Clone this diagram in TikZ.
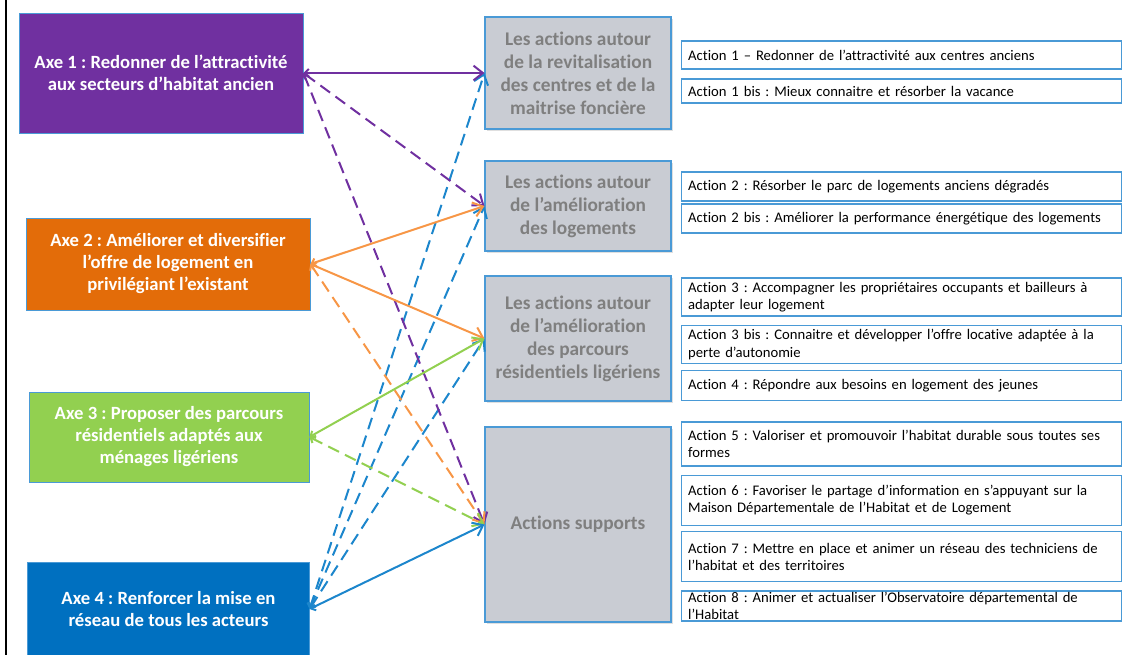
\documentclass[tikz,border=0pt]{standalone}
\usepackage{fontspec}
\setmainfont{Carlito}[Ligatures=NoCommon]
\usetikzlibrary{arrows.meta,shadows}

\definecolor{axeviolet}{HTML}{7030A0}
\definecolor{axeorange}{HTML}{E36C09}
\definecolor{axegreen}{HTML}{92D050}
\definecolor{axeblue}{HTML}{0070C0}
\definecolor{lnorange}{HTML}{F79646}
\definecolor{lnblue}{HTML}{1C86CC}
\definecolor{boxblue}{HTML}{4A9AD6}
\definecolor{grpfill}{HTML}{C9CCD3}
\definecolor{grptext}{HTML}{7F7F7F}
\frenchspacing

\begin{document}
\begin{tikzpicture}[x=0.75pt, y=-0.75pt,
          axe/.style={draw=boxblue, line width=0.6pt, text=white, align=center,
                      font=\fontsize{14}{16.5}\selectfont\bfseries, inner sep=2pt},
          grp/.style={draw=boxblue, line width=0.8pt, fill=grpfill, text=grptext,
                      align=center, font=\fontsize{14.5}{17.3}\selectfont\bfseries,
                      minimum width=139.5pt, inner sep=2pt,
                      drop shadow={opacity=0.25, shadow xshift=1.2pt, shadow yshift=-1.2pt}},
          act/.style={draw=boxblue, line width=0.8pt, fill=white, anchor=west,
                      text width=320pt, align=left, inner xsep=5pt, inner ysep=0pt,
                      font=\fontsize{11}{12.8}\selectfont},
          link/.style={line width=1.5pt,
                       {Straight Barb[length=3pt,width=6pt]}-{Straight Barb[length=7pt,width=11pt]}},
          dlink/.style={link, dash pattern=on 9pt off 5pt}
        ]
        \useasboundingbox (0,0) rectangle (1123,655);

        % ---- frame line on the left ----
        \draw[line width=1.5pt] (6,0) -- (6,655);

        % ---- axes (left column) ----
        \node[axe, fill=axeviolet, minimum width=213pt, minimum height=90pt] (axe1) at (161,73)
          {Axe 1 : Redonner de l’attractivité\\aux secteurs d’habitat ancien};
        \node[axe, fill=axeorange, minimum width=213pt, minimum height=69pt] (axe2) at (168,264)
          {Axe 2 : Améliorer et diversifier\\l’offre de logement en\\privilégiant l’existant};
        \node[axe, fill=axegreen, minimum width=210pt, minimum height=67.5pt] (axe3) at (169,437)
          {Axe 3 : Proposer des parcours\\résidentiels adaptés aux\\ménages ligériens};
        \node[axe, fill=axeblue, minimum width=211pt, minimum height=70pt] (axe4) at (168.5,609)
          {Axe 4 : Renforcer la mise en\\réseau de tous les acteurs};

        % ---- groups of actions (middle column) ----
        \node[grp, minimum height=84pt] (grp1) at (578,73)
          {Les actions autour\\de la revitalisation\\des centres et de la\\maitrise foncière};
        \node[grp, minimum height=67.5pt] (grp2) at (578,206)
          {Les actions autour\\de l’amélioration\\des logements};
        \node[grp, minimum height=93.75pt] (grp3) at (578,338.5)
          {Les actions autour\\de l’amélioration\\des parcours\\résidentiels ligériens};
        \node[grp, minimum height=146.25pt] (grp4) at (578,524.5)
          {Actions supports};

        % ---- actions (right column) ----
        \node[act, minimum height=21pt] (act1) at (681,55)
          {Action 1 – Redonner de l’attractivité aux centres anciens};
        \node[act, minimum height=18pt] (act1b) at (681,91)
          {Action 1 bis : Mieux connaitre et résorber la vacance};
        \node[act, minimum height=21.75pt] (act2) at (681,186.5)
          {Action 2 : Résorber le parc de logements anciens dégradés};
        \node[act, minimum height=21.75pt] (act2b) at (681,218.5)
          {Action 2 bis : Améliorer la performance énergétique des logements};
        \node[act, minimum height=28.5pt] (act3) at (681,297)
          {Action 3 : Accompagner les propriétaires occupants et bailleurs à\\adapter leur logement};
        \node[act, minimum height=29pt] (act3b) at (681,344.5)
          {Action 3 bis : Connaitre et développer l’offre locative adaptée à la\\perte d’autonomie};
        \node[act, minimum height=23pt] (act4) at (681,385.5)
          {Action 4 : Répondre aux besoins en logement des jeunes};
        \node[act, minimum height=33pt] (act5) at (681,444)
          {Action 5 : Valoriser et promouvoir l’habitat durable sous toutes ses\\formes};
        \node[act, minimum height=38pt] (act6) at (681,500.5)
          {Action 6 : Favoriser le partage d’information en s’appuyant sur la\\Maison Départementale de l’Habitat et de Logement};
        \node[act, minimum height=37pt] (act7) at (681,556.5)
          {Action 7 : Mettre en place et animer un réseau des techniciens de\\l’habitat et des territoires};
        \node[act, minimum height=22.5pt] (act8) at (681,606)
          {Action 8 : Animer et actualiser l’Observatoire départemental de\\l’Habitat};

        % ---- links from the axes to the groups ----
        \draw[dlink, lnblue] (axe4.east) -- (grp1.west);
        \draw[dlink, lnblue] (axe4.east) -- (grp2.west);
        \draw[dlink, lnblue] (axe4.east) -- (grp3.west);
        \draw[dlink, axeviolet] (axe1.east) -- (grp2.west);
        \draw[dlink, axeviolet] (axe1.east) -- (grp4.west);
        \draw[dlink, lnorange] (axe2.east) -- (grp4.west);
        \draw[dlink, axegreen] (axe3.east) -- (grp4.west);
        \draw[link, axeviolet] (axe1.east) -- (grp1.west);
        \draw[link, lnorange] (axe2.east) -- (grp2.west);
        \draw[link, lnorange] (axe2.east) -- (grp3.west);
        \draw[link, axegreen] (axe3.east) -- (grp3.west);
        \draw[link, lnblue] (axe4.east) -- (grp4.west);

      \end{tikzpicture}
\end{document}
